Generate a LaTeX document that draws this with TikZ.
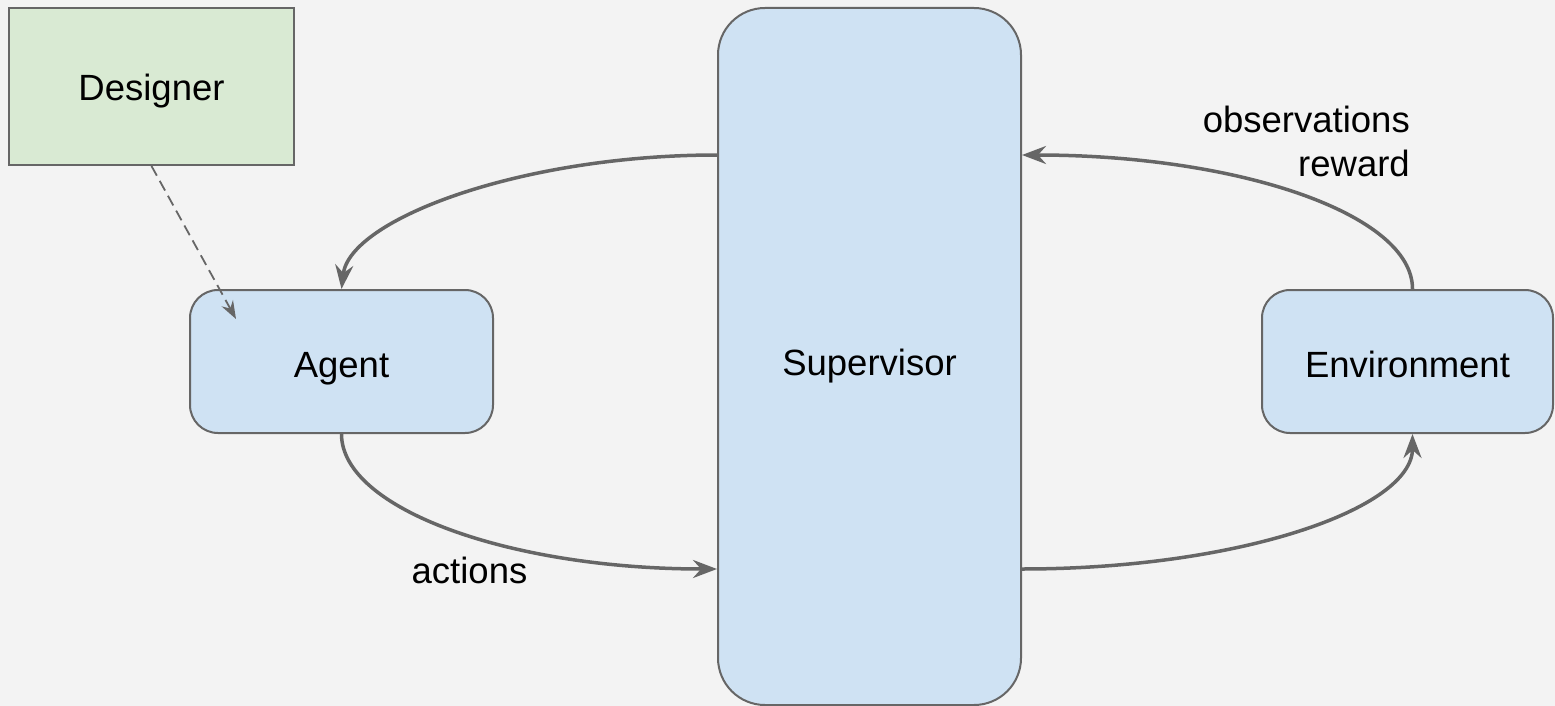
\documentclass[tikz,border=0pt]{standalone}
\usepackage{fontspec}
\setmainfont{Liberation Sans}
\usetikzlibrary{arrows.meta,calc}
\definecolor{bg}{HTML}{F3F3F3}
\definecolor{edge}{HTML}{666666}
\definecolor{greenfill}{HTML}{D9EAD3}
\definecolor{bluefill}{HTML}{CFE2F3}
\tikzset{
  box/.style={draw=edge, line width=2pt, inner sep=0pt, font=\fontsize{36.5}{44}\selectfont, text=black, text height=31pt, text depth=0pt},
  gbox/.style={box, fill=greenfill, rectangle},
  bbox/.style={box, fill=bluefill, rectangle},
  conn/.style={draw=edge, line width=3.5pt, -{Stealth[length=24pt,width=18pt,inset=8pt]}},
  dconn/.style={draw=edge, line width=1.8pt, dash pattern=on 11pt off 6pt, -{Stealth[length=18pt,width=13pt,inset=6pt]}},
  lbl/.style={inner sep=0pt, font=\fontsize{36.5}{44}\selectfont, text=black}
}
\begin{document}
\begin{tikzpicture}[x=1pt,y=-1pt]
\fill[bg] (0,0) rectangle (1555,706);
\useasboundingbox (0,0) rectangle (1555,706);
\node[gbox, text height=29pt, minimum width=285pt, minimum height=157pt] (designer) at (151.5,86.5) {Designer};
\node[bbox, rounded corners=28pt, minimum width=303pt, minimum height=143pt] (agent) at (341.5,361.5) {Agent};
\node[bbox, text height=37pt, rounded corners=47pt, minimum width=303pt, minimum height=697pt] (sup) at (869.5,356.5) {Supervisor};
\node[bbox, rounded corners=28pt, minimum width=291pt, minimum height=143pt] (env) at (1407.5,361.5) {Environment};
% connectors (quarter-ellipse shaped curves)
\draw[conn] ($(sup.west)+(0,-201.5)$) .. controls ($(sup.west)+(-195,-201.5)$) and ($(agent.north)+(8,-70)$) .. (agent.north);
\draw[conn] (agent.south) .. controls ($(agent.south)+(0,75)$) and ($(sup.west)+(-207,212.5)$) .. ($(sup.west)+(0,212.5)$);
\draw[conn] ($(sup.east)+(0,212.5)$) .. controls ($(sup.east)+(216,212.5)$) and ($(env.south)+(5,75)$) .. ($(env.south)+(5,0)$);
\draw[conn] ($(env.north)+(5,0)$) .. controls ($(env.north)+(5,-75)$) and ($(sup.east)+(216,-201.5)$) .. ($(sup.east)+(0,-201.5)$);
\draw[dconn] (designer.south) -- ($(agent.north west)+(47,30)$);
% labels
\node[lbl, anchor=base] (act) at (469.5,583) {actions};
\node[lbl, anchor=base east] (obs) at (1410,133) {observations};
\node[lbl, anchor=base east] (rew) at (1410,176) {reward};
\end{tikzpicture}
\end{document}
